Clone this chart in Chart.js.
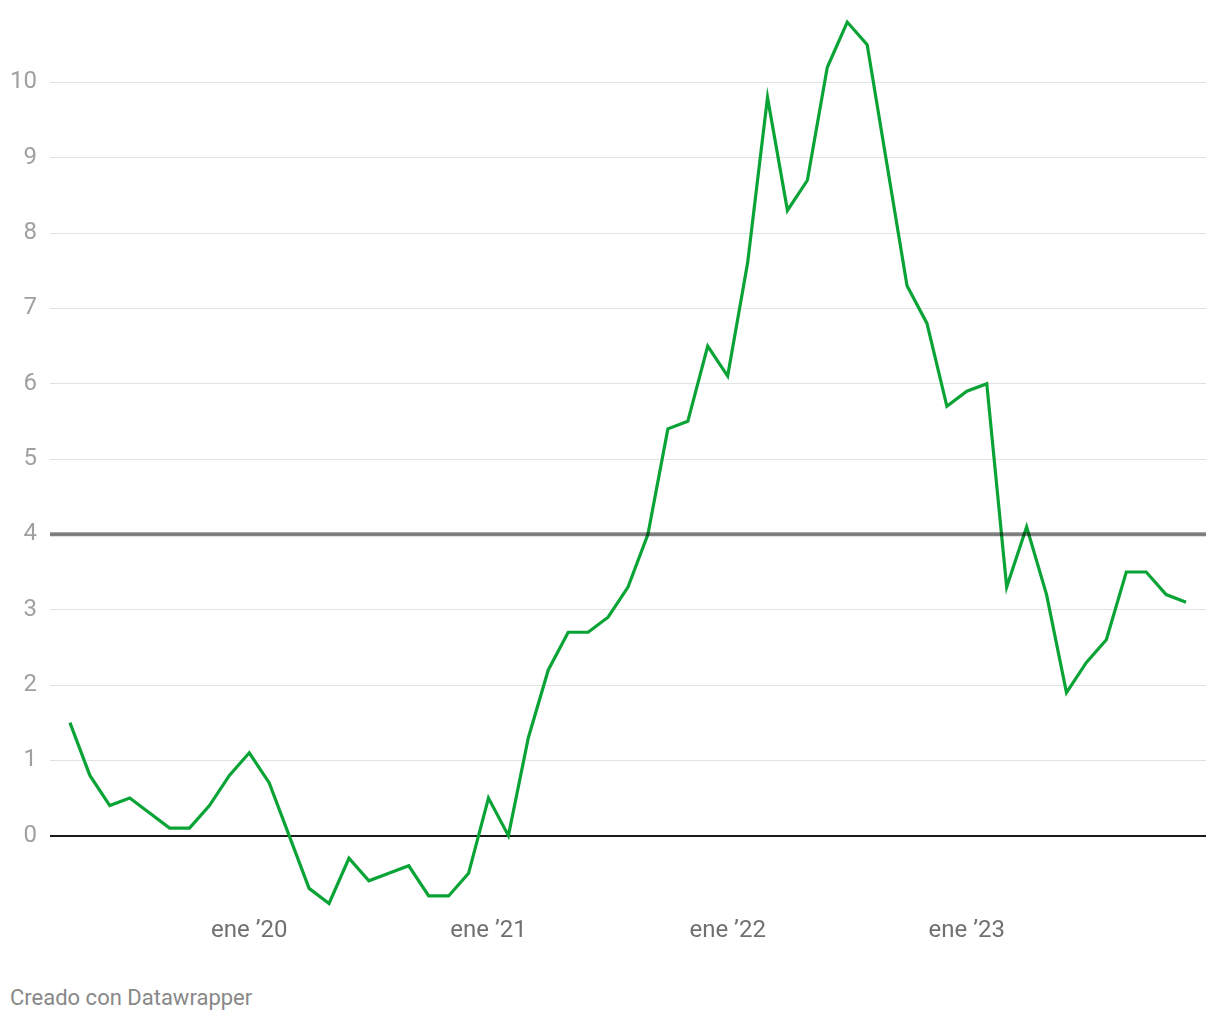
<!DOCTYPE html>
<html>
<head>
<meta charset="utf-8">
<script src="https://cdn.jsdelivr.net/npm/chart.js@4/dist/chart.umd.min.js"></script>
<style>
  html, body { margin: 0; padding: 0; background: #fff; }
  #wrap { position: relative; width: 1220px; height: 960px; }
  #footer {
    position: absolute; left: 10px; top: 985px;
    font-family: Roboto, sans-serif; font-size: 22px; color: #888;
  }
</style>
</head>
<body>
<div id="wrap"><canvas id="chart"></canvas></div>
<div id="footer">Creado con Datawrapper</div>
<script>
//-------------------------------------------------------------
// Data: monthly values, Apr 2019 .. Dec 2023
//-------------------------------------------------------------
const months = [
  "abr 19","may 19","jun 19","jul 19","ago 19","sep 19","oct 19","nov 19","dic 19",
  "ene 20","feb 20","mar 20","abr 20","may 20","jun 20","jul 20","ago 20","sep 20","oct 20","nov 20","dic 20",
  "ene 21","feb 21","mar 21","abr 21","may 21","jun 21","jul 21","ago 21","sep 21","oct 21","nov 21","dic 21",
  "ene 22","feb 22","mar 22","abr 22","may 22","jun 22","jul 22","ago 22","sep 22","oct 22","nov 22","dic 22",
  "ene 23","feb 23","mar 23","abr 23","may 23","jun 23","jul 23","ago 23","sep 23","oct 23","nov 23","dic 23"
];
const values = [
  1.5, 0.8, 0.4, 0.5, 0.3, 0.1, 0.1, 0.4, 0.8,
  1.1, 0.7, 0.0, -0.7, -0.9, -0.3, -0.6, -0.5, -0.4, -0.8, -0.8, -0.5,
  0.5, 0.0, 1.3, 2.2, 2.7, 2.7, 2.9, 3.3, 4.0, 5.4, 5.5, 6.5,
  6.1, 7.6, 9.8, 8.3, 8.7, 10.2, 10.8, 10.5, 8.9, 7.3, 6.8, 5.7,
  5.9, 6.0, 3.3, 4.1, 3.2, 1.9, 2.3, 2.6, 3.5, 3.5, 3.2, 3.1
];
const targetValue = 4;
const xTickMonths = ["ene 20", "ene 21", "ene 22", "ene 23"];
const xTickLabels = ["ene ’20", "ene ’21", "ene ’22", "ene ’23"];
const yTicks = [0, 1, 2, 3, 4, 5, 6, 7, 8, 9, 10];

//-------------------------------------------------------------
// Build chart
//-------------------------------------------------------------
const points = values.map((v, i) => ({ x: i, y: v }));
const xMin = -1, xMax = months.length;
const xTickPos = xTickMonths.map((m) => months.indexOf(m));

new Chart(document.getElementById("chart"), {
  type: "line",
  data: {
    datasets: [
      {
        data: [{ x: xMin, y: targetValue }, { x: xMax, y: targetValue }],
        borderColor: "rgba(0,0,0,0.48)",
        borderWidth: 4,
        pointRadius: 0,
        order: 0,
      },
      {
        data: points,
        borderColor: "#0aa336",
        borderWidth: 3.2,
        pointRadius: 0,
        tension: 0,
        order: 1,
      },
    ],
  },
  options: {
    responsive: true,
    maintainAspectRatio: false,
    animation: false,
    layout: { padding: { left: 0, right: 14, top: 7, bottom: 0 } },
    plugins: { legend: { display: false }, tooltip: { enabled: false } },
    scales: {
      x: {
        type: "linear",
        min: xMin,
        max: xMax,
        afterBuildTicks: (s) => { s.ticks = xTickPos.map((v) => ({ value: v })); },
        afterFit: (s) => { s.height = 49; s.paddingLeft = 0; s.paddingRight = 0; },
        grid: { display: false, drawTicks: false },
        border: { display: false },
        ticks: {
          padding: 6,
          maxRotation: 0,
          autoSkip: false,
          color: "#707070",
          font: { family: "Roboto", size: 24 },
          callback: (v) => xTickLabels[xTickPos.indexOf(v)],
        },
      },
      y: {
        min: -1,
        max: 11,
        afterBuildTicks: (s) => { s.ticks = yTicks.map((v) => ({ value: v })); },
        afterFit: (s) => { s.width = 50; s.paddingTop = 0; s.paddingBottom = 0; },
        border: { display: false },
        grid: {
          drawTicks: false,
          color: (c) => (c.tick.value === 0 ? "#1a1a1a" : "#e2e2e2"),
          lineWidth: (c) => (c.tick.value === 0 ? 2 : 1),
        },
        ticks: {
          padding: 13,
          color: "#a0a0a0",
          font: { family: "Roboto", size: 24 },
        },
      },
    },
  },
});
</script>
</body>
</html>
